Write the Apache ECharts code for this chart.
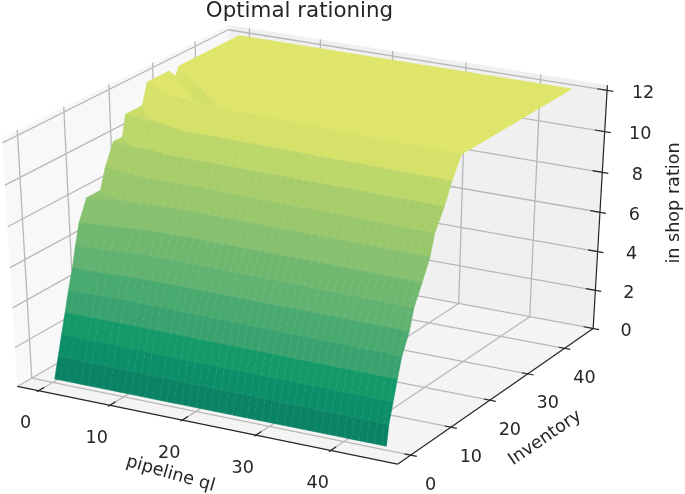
<!DOCTYPE html>
<html><head><meta charset="utf-8">
<style>html,body{margin:0;padding:0;background:#fff}#c{width:685px;height:494px}</style>
<script src="https://cdn.jsdelivr.net/npm/echarts@6/dist/echarts.min.js"></script>
</head><body><div id="c"></div>
<script>
// ---------- chart values ----------
const titleText = 'Optimal rationing';
const xName = 'pipeline ql', yName = 'Inventory', zName = 'in shop ration';
const xLim = [-3, 48.8], yLim = [-3.2, 48], zLim = [0, 12.25];
const xTicks = [0, 10, 20, 30, 40];
const yTicks = [0, 10, 20, 30, 40];
const zTicks = [0, 2, 4, 6, 8, 10, 12];
// pipeline positions of the surface columns
const columnX = [0.3, 3, 6, 9, 14, 45.6];
// inventory where each ration level (0..12) starts, per column
const levelStartY = [
  [0, 1, 2, 3, 4, 5.1, 6, 7, 8.9, 13.3, 15.3, 18.2, 23.3],
  [0, 1, 2, 3, 4, 5, 6, 7.5, 9.5, 12.5, 14.5, 17.5, 21.5],
  [0, 1, 2, 3, 4.2, 5.3, 6.5, 8, 10, 12, 14.5, 17, 20],
  [0, 1, 2, 3, 4.3, 5.5, 7, 8.5, 10.3, 12, 14, 16, 19],
  [0, 0.9, 1.8, 2.9, 4.1, 5.6, 7, 8.7, 10.5, 12, 13.9, 15.8, 18.5],
  [0, 0.5, 1.45, 2.4, 3.4, 5.1, 6.1, 8, 9.8, 10.8, 13, 14.7, 16.9]
];
// inventory where the flat tread of each level ends, per column
const levelEndY = [
  [0, 1, 2, 3, 4, 5.1, 6, 7, 12, 13.3, 17.3, 22, 28.3],
  [0, 1, 2, 3, 4, 5, 6, 7.5, 10.5, 12.5, 15, 18.5, 25.5],
  [0, 1, 2, 3, 4.2, 5.3, 6.5, 8, 10, 12, 14.5, 17, 22.5],
  [0, 1, 2, 3, 4.3, 5.5, 7, 8.5, 10.3, 12, 14, 16, 19.3],
  [0, 0.9, 1.8, 2.9, 4.1, 5.6, 7, 8.7, 10.5, 12, 13.9, 15.8, 18.5],
  [0, 0.5, 1.45, 2.4, 3.4, 5.1, 6.1, 8, 9.8, 10.8, 13, 14.7, 16.9]
];
const levelZ = [0.2, 1.2, 2.2, 3.2, 4.2, 5.2, 6.2, 7.2, 8.2, 9.2, 10.2, 11.2, 12.2];
// fold in the plateau near the left edge
const foldY = [29.8, 26.6, 23.4, 20.2, 18.5, 16.9];
const foldZ = [11.8, 11.5, 11.1, 10.7, 12.2, 12.2];
const plateauStartY = [30.6, 28, 25.2, 22.4, 18.5, 16.9];
const plateauZ = 12.2;
const backY = 45;

// colour ramp by band, front band first, plateau last
const bandColors = [[10,130,100],[12,143,104],[20,153,104],[58,162,110],[72,170,110],[98,178,113],[112,184,112],[135,192,110],[152,199,108],[167,205,106],[188,215,105],[213,225,103],[230,232,107]];

// ---------- projection (elevation 30, azimuth -61, distance 10) ----------
const elev = 30 * Math.PI / 180, azim = -61 * Math.PI / 180, dist = 10;
const scr = { sx: 434, sy: 284, ox: 310, oy: 237 };
const n3 = [Math.cos(elev) * Math.cos(azim), Math.cos(elev) * Math.sin(azim), Math.sin(elev)];
const u3 = [-Math.sin(azim), Math.cos(azim), 0];
const v3 = [-Math.sin(elev) * Math.cos(azim), -Math.sin(elev) * Math.sin(azim), Math.cos(elev)];
const dot = (a, b) => a[0] * b[0] + a[1] * b[1] + a[2] * b[2];
function project(x, y, z) {
  const p = [(x - xLim[0]) / (xLim[1] - xLim[0]) - .5, (y - yLim[0]) / (yLim[1] - yLim[0]) - .5, (z - zLim[0]) / (zLim[1] - zLim[0]) - .5];
  const s = dist / (dist - dot(p, n3));
  return [scr.ox + scr.sx * dot(p, u3) * s, scr.oy - scr.sy * dot(p, v3) * s];
}

// ---------- surface rows: front to back ----------
const rows = [];
levelZ.forEach((z, i) => {
  rows.push({ y: columnX.map((_, c) => levelStartY[c][i]), z: columnX.map(() => z), edge: true });
  rows.push({ y: columnX.map((_, c) => levelEndY[c][i]), z: columnX.map(() => z) });
});
rows.push({ y: foldY, z: foldZ });
rows.push({ y: plateauStartY, z: columnX.map(() => plateauZ) });
rows.push({ y: columnX.map(() => backY), z: columnX.map(() => plateauZ) });

function facetColor(q) {
  const mz = (q[0][2] + q[1][2] + q[2][2] + q[3][2]) / 4;
  const pos = Math.min(bandColors.length - 1, Math.max(0, mz - levelZ[0] - 0.5));
  const i = Math.min(bandColors.length - 2, Math.floor(pos)), f = pos - i;
  const rgb = bandColors[i].map((v, k) => Math.round(v + (bandColors[i + 1][k] - v) * f));
  return 'rgb(' + rgb.join(',') + ')';
}
function rowAt(row, c, x) {
  const f = (x - columnX[c]) / (columnX[c + 1] - columnX[c]);
  return [x, row.y[c] + (row.y[c + 1] - row.y[c]) * f, row.z[c] + (row.z[c + 1] - row.z[c]) * f];
}

const facets = [];
const meshDashes = [];
for (let r = rows.length - 2; r >= 0; r--) {
  for (let c = 0; c < columnX.length - 1; c++) {
    const a = columnX[c], b = columnX[c + 1];
    const cuts = [a];
    for (let m = Math.ceil(a + 0.01); m < b; m++) cuts.push(m);
    cuts.push(b);
    for (let j = 0; j < cuts.length - 1; j++) {
      const q = [rowAt(rows[r], c, cuts[j]), rowAt(rows[r], c, cuts[j + 1]), rowAt(rows[r + 1], c, cuts[j + 1]), rowAt(rows[r + 1], c, cuts[j])];
      if (Math.abs(q[0][1] - q[3][1]) + Math.abs(q[1][1] - q[2][1]) + Math.abs(q[0][2] - q[3][2]) + Math.abs(q[1][2] - q[2][2]) < 1e-6) continue;
      facets.push({ pts: q, fill: facetColor(q) });
      if (j > 0 && cuts[j] >= 3) meshDashes.push([q[0], q[3]]);
    }
  }
}

// ---------- box ----------
const [x0, x1] = xLim, [y0, y1] = yLim, [z0, z1] = zLim;
const panes = [
  { pts: [[x0, y0, z0], [x0, y1, z0], [x0, y1, z1], [x0, y0, z1]], fill: '#f8f8f8' },
  { pts: [[x0, y1, z0], [x1, y1, z0], [x1, y1, z1], [x0, y1, z1]], fill: '#f0f0f0' },
  { pts: [[x0, y0, z0], [x1, y0, z0], [x1, y1, z0], [x0, y1, z0]], fill: '#f4f4f4' }
];
const gridSegs = [];
xTicks.forEach(v => { gridSegs.push([[v, y0, z0], [v, y1, z0]], [[v, y1, z0], [v, y1, z1]]); });
yTicks.forEach(v => { gridSegs.push([[x1, v, z0], [x0, v, z0]], [[x0, v, z0], [x0, v, z1]]); });
zTicks.forEach(v => { gridSegs.push([[x1, y1, v], [x0, y1, v]], [[x0, y1, v], [x0, y0, v]]); });
const axisSegs = [
  [[x0, y0, z0], [x1, y0, z0]],
  [[x1, y0, z0], [x1, y1, z0]],
  [[x1, y1, z0], [x1, y1, z1]]
];
xTicks.forEach(v => axisSegs.push([[v, y0 - 0.4, z0], [v, y0 + 1.3, z0]]));
yTicks.forEach(v => axisSegs.push([[x1 + 0.8, v, z0], [x1 - 0.8, v, z0]]));
zTicks.forEach(v => axisSegs.push([[x1 + 0.8, y1, v], [x1 - 1.3, y1, v]]));

const textColor = '#262626', font = '"DejaVu Sans"';
const labels = [];
xTicks.forEach(v => { const p = project(v, y0, z0); labels.push({ t: String(v), x: p[0] - 13, y: p[1] + 33, fs: 17.6, r: 0 }); });
yTicks.forEach(v => { const p = project(x1, v, z0); labels.push({ t: String(v), x: p[0] + 20, y: p[1] + 30, fs: 17.6, r: 0 }); });
zTicks.forEach(v => { const p = project(x1, y1, v); labels.push({ t: String(v), x: p[0] + 33 + v * 0.25, y: p[1] + 3, fs: 17.6, r: 0 }); });
labels.push({ t: xName, x: 170.5, y: 474, fs: 17.6, r: -0.28 });
labels.push({ t: yName, x: 545, y: 438, fs: 17.6, r: 0.6 });
labels.push({ t: zName, x: 674, y: 203, fs: 17.6, r: Math.PI / 2 });

function polySeries(list, z, name, seal) {
  return {
    type: 'custom', name, coordinateSystem: 'cartesian2d', z, clip: false, silent: true, animation: false, progressive: 0,
    encode: { x: 0, y: 1 },
    data: list.map((_, i) => [i, i]),
    renderItem(params, api) {
      const it = list[params.dataIndex];
      return { type: 'polygon', silent: true, shape: { points: it.pts.map(p => api.coord(project(p[0], p[1], p[2]))) }, style: { fill: it.fill, stroke: seal ? it.fill : null, lineWidth: seal ? 0.6 : 0 } };
    }
  };
}
function lineSeries(list, z, stroke, lw, name, dash) {
  return {
    type: 'custom', name, coordinateSystem: 'cartesian2d', z, clip: false, silent: true, animation: false, progressive: 0,
    encode: { x: 0, y: 1 },
    data: list.map((_, i) => [i, i]),
    renderItem(params, api) {
      const s = list[params.dataIndex];
      const a = api.coord(project(...s[0])), b = api.coord(project(...s[1]));
      return { type: 'line', silent: true, shape: { x1: a[0], y1: a[1], x2: b[0], y2: b[1] }, style: { stroke, lineWidth: lw, fill: null, lineDash: dash || null } };
    }
  };
}
const textSeries = {
  type: 'custom', name: 'labels', coordinateSystem: 'cartesian2d', z: 7, clip: false, silent: true, animation: false,
  encode: { x: 0, y: 1 },
  data: labels.map((_, i) => [i, i]),
  renderItem(params, api) {
    const l = labels[params.dataIndex];
    const p = api.coord([l.x, l.y]);
    return { type: 'text', silent: true, x: p[0], y: p[1], rotation: l.r, style: { text: l.t, fontFamily: font, fontSize: l.fs, fill: textColor, align: 'center', verticalAlign: 'middle' } };
  }
};

const chart = echarts.init(document.getElementById('c'), null, { renderer: 'canvas', width: 685, height: 494 });
chart.setOption({
  animation: false,
  backgroundColor: '#ffffff',
  title: { text: titleText, left: 294.5, top: -4, textAlign: 'center', textStyle: { fontFamily: font, fontSize: 21.4, fontWeight: 'normal', color: textColor } },
  tooltip: { show: false },
  grid: { left: 0, right: 0, top: 0, bottom: 0 },
  xAxis: { type: 'value', min: 0, max: 685, show: false },
  yAxis: { type: 'value', min: 0, max: 494, inverse: true, show: false },
  series: [
    polySeries(panes, 1, 'panes'),
    lineSeries(gridSegs, 2, '#b8b8b8', 1.3, 'grid'),
    lineSeries(axisSegs, 3, '#262626', 1.2, 'axes'),
    polySeries(facets, 4, 'surface', true),
    lineSeries(meshDashes, 6, 'rgba(255,255,255,0.12)', 0.7, 'mesh', [3, 5]),
    textSeries
  ]
});
</script></body></html>
